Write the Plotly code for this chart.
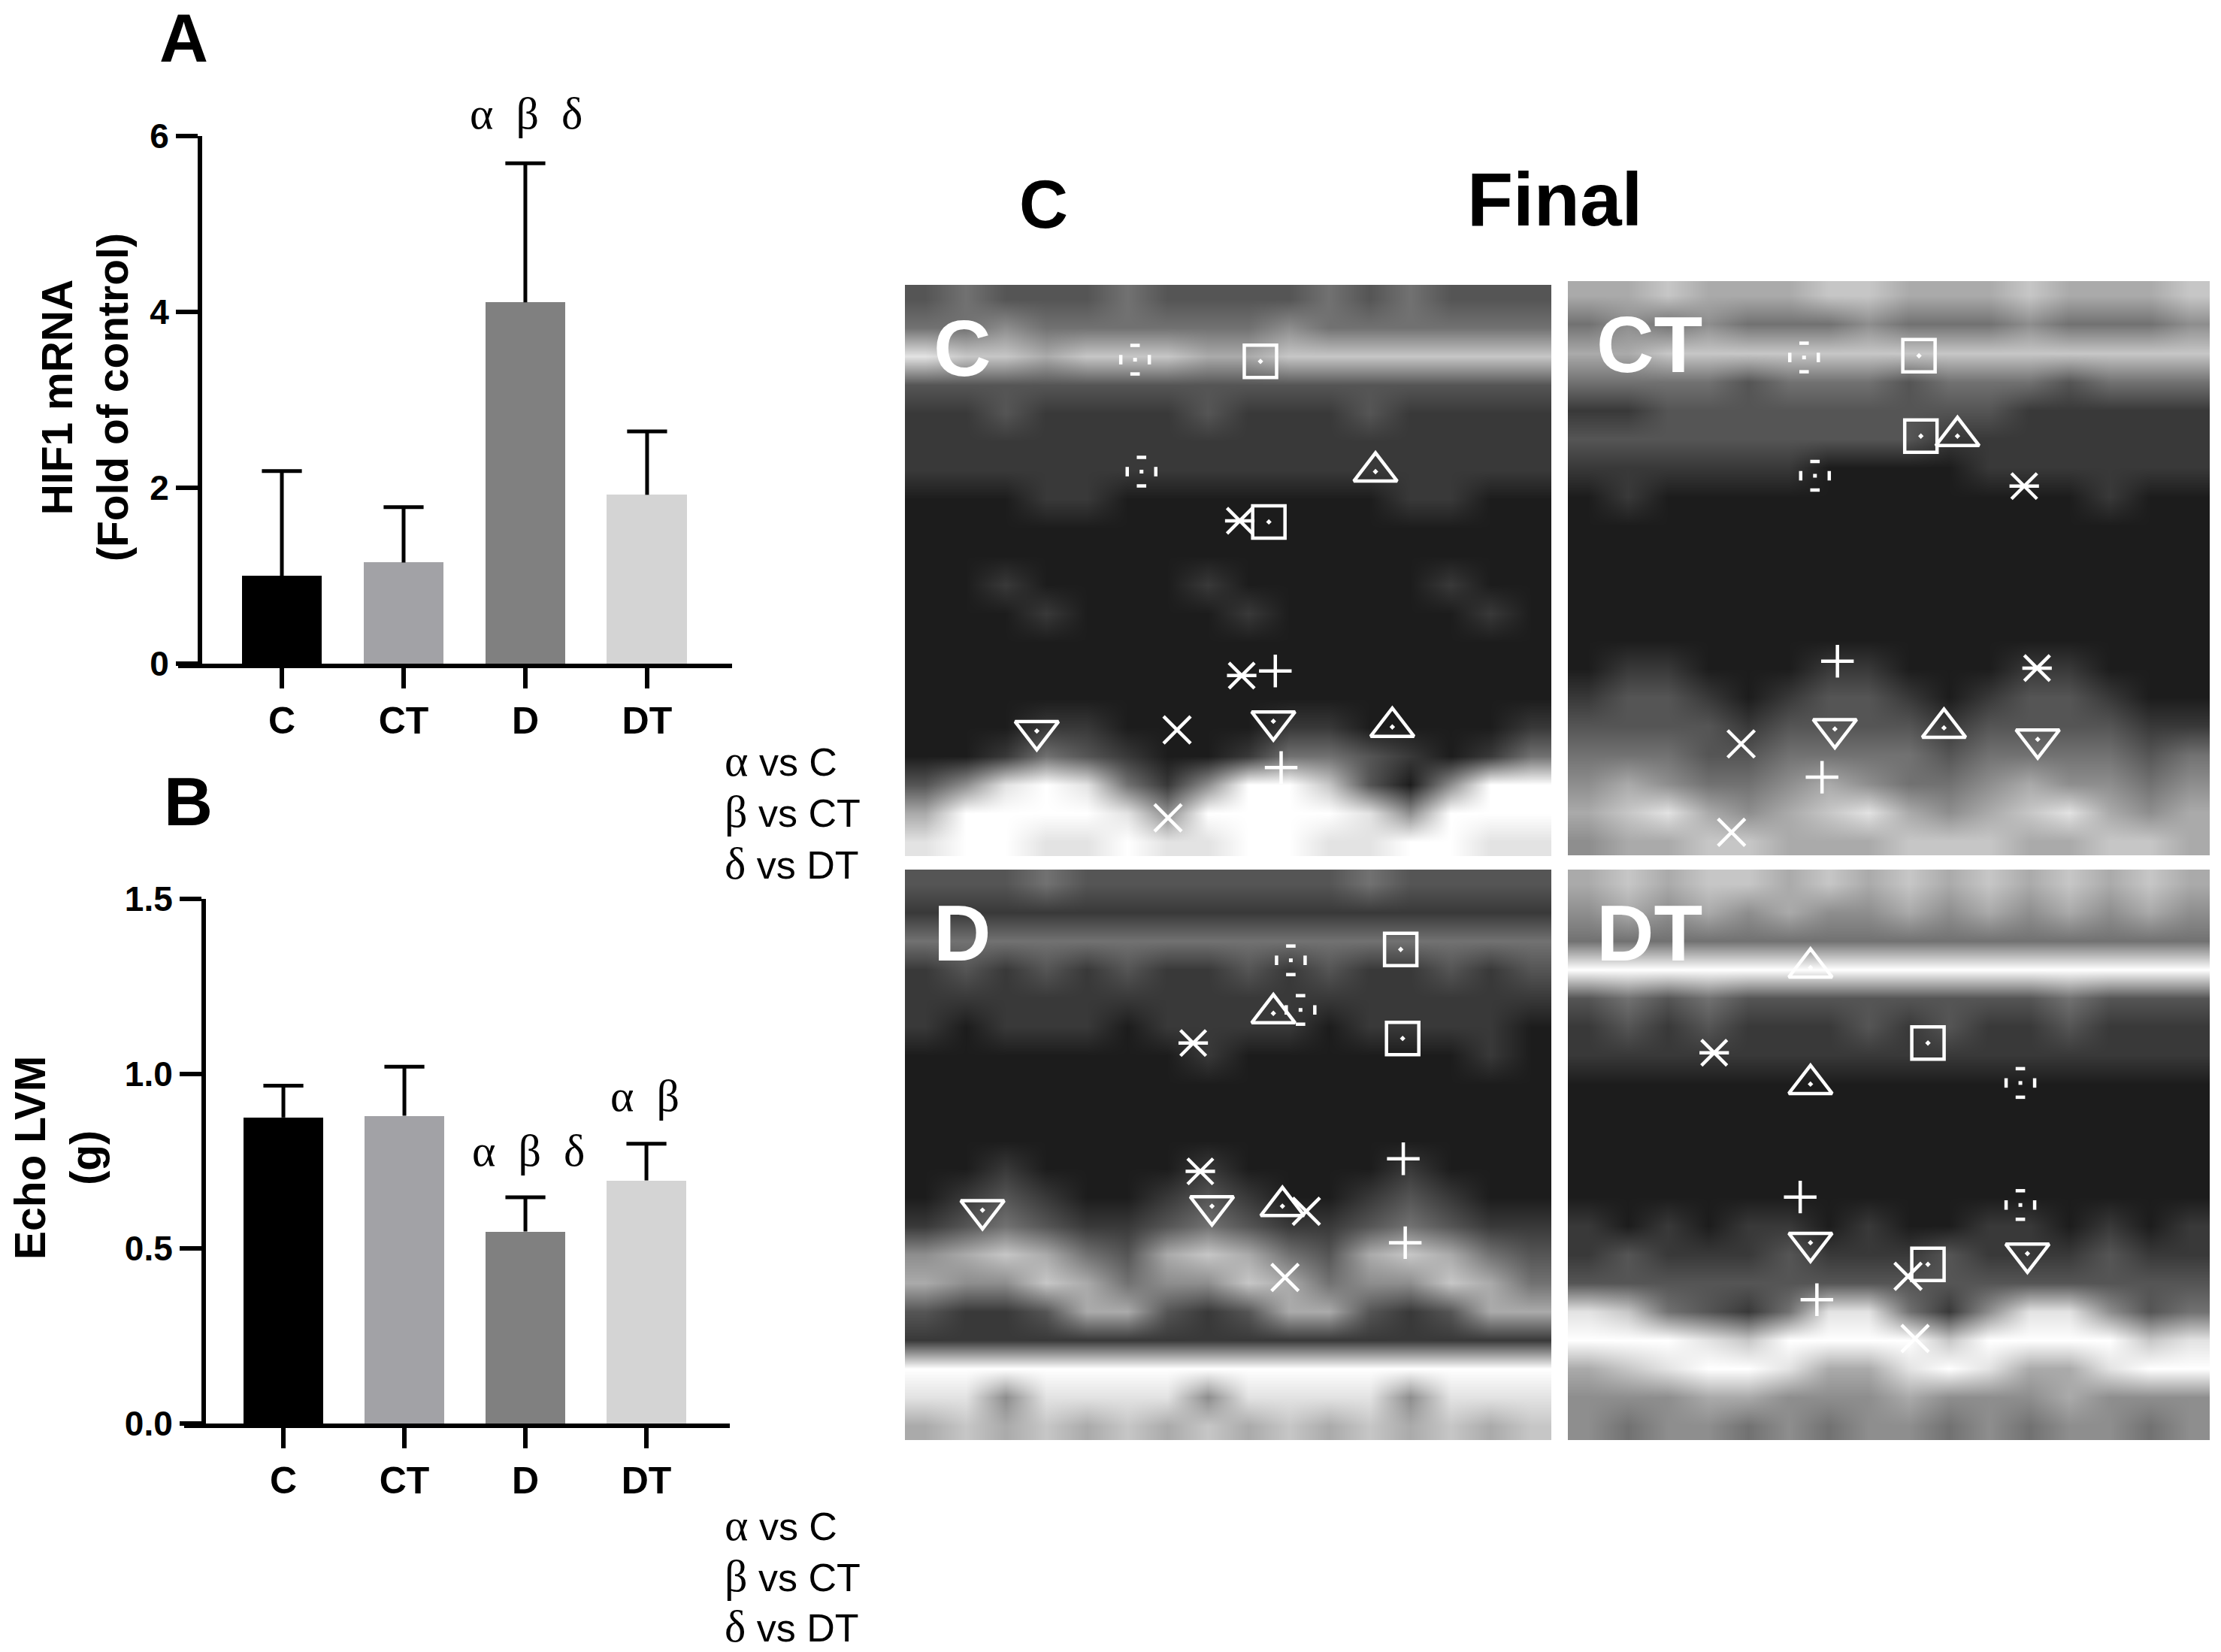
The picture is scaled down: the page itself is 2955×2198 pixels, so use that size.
import plotly.graph_objects as go

W, H = 2955, 2198
SANS = "Liberation Sans, Arial, sans-serif"
SERIF = "Liberation Serif, Times New Roman, serif"

# ---- bar chart data ----
groups = ["C", "CT", "D", "DT"]
bar_colors = ["#000000", "#a2a2a6", "#808080", "#d4d4d4"]
hif1_mean = [1.00, 1.15, 4.11, 1.92]
hif1_sd = [1.19, 0.63, 1.58, 0.72]
hif1_ticks = [0, 2, 4, 6]
lvm_mean = [0.875, 0.88, 0.549, 0.695]
lvm_sd = [0.091, 0.14, 0.098, 0.105]
lvm_ticks = [0, 0.5, 1.0, 1.5]
lvm_ticktext = ["0.0", "0.5", "1.0", "1.5"]
sig_hif1 = {"D": "α  β  δ"}
sig_lvm = {"D": "α  β  δ", "DT": "α  β"}
legend_lines = [("α", "vs C"), ("β", "vs CT"), ("δ", "vs DT")]

# ---- M-mode echo panels: coarse brightness (0 black .. 9 white) ----
echo_C = [
    "3433343333434333",
    "4454444445444444",
    "8776777667777777",
    "3333333333333333",
    "2232222322232222",
    "2222222222222222",
    "2222222222222222",
    "1112211111112211",
    "1111111111111111",
    "1111111111111111",
    "1121111211111211",
    "1112111121111121",
    "1111111111111111",
    "1111111111111111",
    "1111111111111111",
    "1112211112211112",
    "1124321124432124",
    "3589842599731599",
    "6999985999985999",
    "8998898899889988",
]
echo_CT = [
    "6676667766676667",
    "4545444544454445",
    "6677777777777777",
    "4444344434443444",
    "2233333333322222",
    "3333333332222222",
    "2222221111222222",
    "1211111111111211",
    "1111111111111111",
    "1111111111111111",
    "1111111111111111",
    "1111111111111111",
    "1111111111111111",
    "1221112211122111",
    "2332123321233211",
    "3333233332333322",
    "4443344443444434",
    "5654456544565545",
    "6786567865678656",
    "5667766677766776",
]
echo_D = [
    "3334333333343333",
    "2222222222222222",
    "4444444444444444",
    "2323232232322323",
    "2222222222222222",
    "2122212222122221",
    "1111111211111121",
    "1111111111111111",
    "1111111111111111",
    "1111111111111111",
    "1121111211112111",
    "1232112321123211",
    "2343223432234322",
    "5676436764367643",
    "6557645576455764",
    "3223663236632366",
    "2222222222222222",
    "9999999999999999",
    "8858888588885888",
    "6767676767676767",
]
echo_DT = [
    "6767767676767676",
    "5656565565656565",
    "4444444444444444",
    "9999999999999999",
    "3434333333334333",
    "2323222323223222",
    "2222222222222222",
    "1111111111111111",
    "1111111111111111",
    "1111111111111111",
    "1111111111111111",
    "1111111111111111",
    "2121221211221212",
    "2322232223222322",
    "3333333333333333",
    "8743248842588534",
    "9998799997999978",
    "6789986689866899",
    "5556655565556555",
    "5455454554545545",
]

# marker positions as fractions of each panel (x from left, y from top)
marks_C = {
    "dotted": ([0.356, 0.366], [0.131, 0.327]),
    "square": ([0.550, 0.563], [0.134, 0.415]),
    "tri_up": ([0.728, 0.754], [0.327, 0.774]),
    "tri_down": ([0.204, 0.570], [0.781, 0.764]),
    "star": ([0.518, 0.521], [0.413, 0.684]),
    "plus": ([0.573, 0.582], [0.676, 0.845]),
    "x": ([0.421, 0.407], [0.779, 0.933]),
}
marks_CT = {
    "dotted": ([0.368, 0.385], [0.133, 0.339]),
    "square": ([0.547, 0.550], [0.130, 0.270]),
    "tri_up": ([0.607, 0.586], [0.270, 0.778]),
    "tri_down": ([0.416, 0.732], [0.780, 0.798]),
    "star": ([0.711, 0.731], [0.357, 0.674]),
    "plus": ([0.420, 0.396], [0.662, 0.864]),
    "x": ([0.270, 0.255], [0.806, 0.960]),
}
marks_D = {
    "dotted": ([0.597, 0.612], [0.159, 0.246]),
    "square": ([0.767, 0.770], [0.140, 0.296]),
    "tri_up": ([0.570, 0.584], [0.252, 0.590]),
    "tri_down": ([0.120, 0.475], [0.597, 0.590]),
    "star": ([0.446, 0.457], [0.304, 0.529]),
    "plus": ([0.771, 0.774], [0.507, 0.654]),
    "x": ([0.621, 0.588], [0.599, 0.715]),
}
marks_DT = {
    "dotted": ([0.705, 0.705], [0.374, 0.588]),
    "square": ([0.561, 0.561], [0.304, 0.692]),
    "tri_up": ([0.378, 0.378], [0.172, 0.376]),
    "tri_down": ([0.378, 0.716], [0.654, 0.673]),
    "star": ([0.228], [0.321]),
    "plus": ([0.362, 0.388], [0.574, 0.754]),
    "x": ([0.530, 0.541], [0.713, 0.822]),
}


def pxx(x):
    return x / W


def pxy(y):
    return 1 - y / H


fig = go.Figure()


def axname(n):
    return ("x", "y") if n == 1 else ("x%d" % n, "y%d" % n)


def bar_panel(n, means, sds, xpix, ypix, yaxis_px, xrange, yrange, tickvals, ticktext):
    xa, ya = axname(n)
    xs = list(range(len(groups)))
    fig.add_trace(go.Bar(x=xs, y=means, width=0.66, marker=dict(color=bar_colors, line=dict(width=0)),
                         xaxis=xa, yaxis=ya, hoverinfo="skip"))
    ex, ey = [], []
    for i, (m, s) in enumerate(zip(means, sds)):
        ex += [i, i, None]
        ey += [m, m + s, None]
    fig.add_trace(go.Scatter(x=ex, y=ey, mode="lines", line=dict(color="black", width=5),
                             xaxis=xa, yaxis=ya, hoverinfo="skip"))
    fig.add_trace(go.Scatter(x=xs, y=[m + s for m, s in zip(means, sds)], mode="markers",
                             marker=dict(symbol="line-ew", size=38, color="black",
                                         line=dict(color="black", width=5)),
                             xaxis=xa, yaxis=ya, hoverinfo="skip"))
    kx = "xaxis" if n == 1 else "xaxis%d" % n
    ky = "yaxis" if n == 1 else "yaxis%d" % n
    fig.update_layout({
        kx: dict(domain=[pxx(xpix[0]), pxx(xpix[1])], range=xrange, anchor=ya,
                 showline=True, linecolor="black", linewidth=6, ticks="outside",
                 ticklen=27, tickwidth=6, tickcolor="black", tickvals=xs, ticktext=groups,
                 tickfont=dict(family=SANS, size=50, color="black", weight="bold"),
                 showgrid=False, zeroline=False, automargin=False),
        ky: dict(domain=[pxy(ypix[1]), pxy(ypix[0])], range=yrange, anchor="free",
                 position=pxx(yaxis_px), showline=True, linecolor="black", linewidth=6,
                 ticks="outside", ticklen=29, tickwidth=6, tickcolor="black",
                 tickvals=tickvals, ticktext=ticktext,
                 tickfont=dict(family=SANS, size=46, color="black", weight="bold"),
                 showgrid=False, zeroline=False, automargin=False),
    })


bar_panel(1, hif1_mean, hif1_sd, (237, 974), (181, 883), 266, [-0.852, 3.698], [0, 6],
          hif1_ticks, [str(t) for t in hif1_ticks])
bar_panel(2, lvm_mean, lvm_sd, (245, 971), (1196, 1894), 271, [-0.820, 3.689], [0, 1.5],
          lvm_ticks, lvm_ticktext)

# ---- echo panels ----
panels = [
    (3, echo_C, marks_C, (1204, 2064), (379, 1139), "C"),
    (4, echo_CT, marks_CT, (2086, 2940), (374, 1138), "CT"),
    (5, echo_D, marks_D, (1204, 2064), (1157, 1916), "D"),
    (6, echo_DT, marks_DT, (2086, 2940), (1157, 1916), "DT"),
]

symbols = {
    "square": ("square-open-dot", 43),
    "tri_up": ("triangle-up-open-dot", 50),
    "tri_down": ("triangle-down-open-dot", 50),
    "plus": ("cross-thin-open", 31),
    "x": ("x-thin-open", 36),
}

annotations = []
for n, grid, marks, xpix, ypix, label in panels:
    xa, ya = axname(n)
    z = [[int(c) for c in row] for row in grid]
    ncol, nrow = len(z[0]), len(z)
    fig.add_trace(go.Heatmap(z=z, x=[(i + 0.5) / ncol for i in range(ncol)],
                             y=[(j + 0.5) / nrow for j in range(nrow)],
                             colorscale=[[0, "#000000"], [1, "#ffffff"]], zmin=0, zmax=9,
                             zsmooth="best", showscale=False, hoverinfo="skip",
                             xaxis=xa, yaxis=ya))
    pw, ph = xpix[1] - xpix[0], ypix[1] - ypix[0]
    mline = dict(color="white", width=4.5)
    for key, (sym, size) in symbols.items():
        if key in marks:
            fig.add_trace(go.Scatter(x=marks[key][0], y=marks[key][1], mode="markers",
                                     marker=dict(symbol=sym, size=size, color="white", line=mline),
                                     xaxis=xa, yaxis=ya, hoverinfo="skip"))
    if "star" in marks:
        sx, sy = marks["star"]
        fig.add_trace(go.Scatter(x=sx, y=sy, mode="markers",
                                 marker=dict(symbol="x-thin-open", size=34, color="white", line=mline),
                                 xaxis=xa, yaxis=ya, hoverinfo="skip"))
        fig.add_trace(go.Scatter(x=sx, y=sy, mode="markers",
                                 marker=dict(symbol="line-ew-open", size=28, color="white", line=mline),
                                 xaxis=xa, yaxis=ya, hoverinfo="skip"))
    if "dotted" in marks:
        dx, dy = marks["dotted"]
        ox, oy = 19 / pw, 19 / ph
        fig.add_trace(go.Scatter(x=dx, y=dy, mode="markers",
                                 marker=dict(symbol="square", size=5, color="white"),
                                 xaxis=xa, yaxis=ya, hoverinfo="skip"))
        fig.add_trace(go.Scatter(x=dx + dx, y=[v - oy for v in dy] + [v + oy for v in dy], mode="markers",
                                 marker=dict(symbol="line-ew-open", size=9, color="white", line=mline),
                                 xaxis=xa, yaxis=ya, hoverinfo="skip"))
        fig.add_trace(go.Scatter(x=[v - ox for v in dx] + [v + ox for v in dx], y=dy + dy, mode="markers",
                                 marker=dict(symbol="line-ns-open", size=9, color="white", line=mline),
                                 xaxis=xa, yaxis=ya, hoverinfo="skip"))
    fig.update_layout({
        "xaxis%d" % n: dict(domain=[pxx(xpix[0]), pxx(xpix[1])], range=[0, 1], visible=False, anchor=ya),
        "yaxis%d" % n: dict(domain=[pxy(ypix[1]), pxy(ypix[0])], range=[1, 0], visible=False, anchor=xa),
    })
    annotations.append(dict(text=label, x=pxx(xpix[0] + 36), y=pxy(ypix[0] + 84),
                            xref="paper", yref="paper", showarrow=False,
                            xanchor="left", yanchor="middle",
                            font=dict(family=SANS, size=106, color="white", weight="bold")))


def add_text(text, x, y, size, family=SANS, bold=False, xanchor="center", angle=0):
    annotations.append(dict(text=text, x=pxx(x), y=pxy(y), xref="paper", yref="paper",
                            showarrow=False, xanchor=xanchor, yanchor="middle",
                            textangle=angle,
                            font=dict(family=family, size=size, color="black",
                                      weight="bold" if bold else "normal")))


# panel titles
add_text("A", 244, 51, 90, bold=True)
add_text("B", 250, 1067, 90, bold=True)
add_text("C", 1388, 272, 90, bold=True)
add_text("Final", 2068, 265, 100, bold=True)

# y titles
add_text("HIF1 mRNA<br>(Fold of control)", 113, 529, 57, bold=True, angle=-90)
add_text("Echo LVM<br>(g)", 77, 1541, 57, bold=True, angle=-90)

# significance marks
add_text(sig_hif1["D"], 700, 151, 60, family=SERIF)
add_text(sig_lvm["D"], 703, 1531, 60, family=SERIF)
add_text(sig_lvm["DT"], 858, 1458, 60, family=SERIF)

# legends
for ys in ([1012, 1080, 1149], [2029, 2097, 2164]):
    for (greek, rest), yy in zip(legend_lines, ys):
        add_text('<span style="font-family:Liberation Serif;font-size:60px">%s</span> %s' % (greek, rest),
                 962, yy, 52, xanchor="left")

fig.update_layout(width=W, height=H, margin=dict(l=0, r=0, t=0, b=0, autoexpand=False),
                  paper_bgcolor="white", plot_bgcolor="white", showlegend=False,
                  annotations=annotations, bargap=0)

fig.write_html("out.html", config={"displayModeBar": False},
               post_script="document.body.style.margin='0px';")
